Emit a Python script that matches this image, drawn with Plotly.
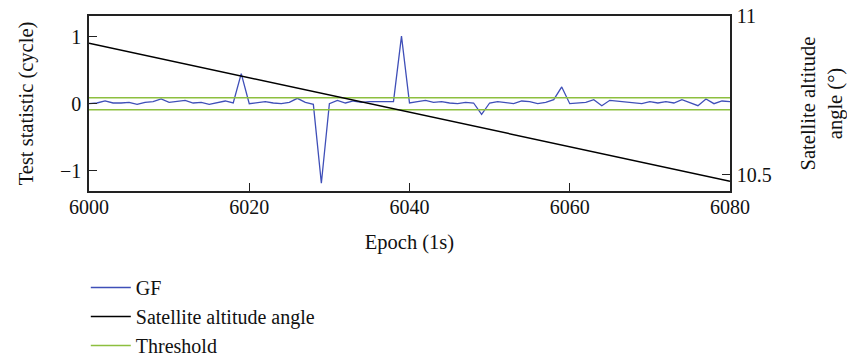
import plotly.graph_objects as go

# Epochs (1 s) and geometry-free test statistic (cycle)
epochs = list(range(6000, 6081))
gf_values = [
    0.00, 0.01, 0.04, 0.01, 0.01, 0.02, -0.01, 0.02, 0.03, 0.07,
    0.02, 0.03, 0.05, 0.01, 0.02, -0.01, 0.01, 0.04, 0.01, 0.45,
    0.00, 0.02, 0.03, 0.01, 0.00, 0.02, 0.08, 0.02, -0.01, -1.19,
    0.00, 0.05, 0.01, 0.04, 0.02, 0.03, 0.03, 0.03, 0.03, 1.01,
    0.01, 0.03, 0.05, 0.02, 0.03, 0.01, 0.00, 0.02, 0.01, -0.16,
    0.01, 0.03, 0.02, 0.00, 0.04, 0.03, 0.00, 0.02, 0.06, 0.25,
    0.00, 0.01, 0.02, 0.06, -0.03, 0.05, 0.04, 0.02, 0.02, 0.00,
    0.03, 0.01, 0.03, 0.01, 0.06, 0.02, -0.03, 0.07, 0.00, 0.04,
    0.03,
]

# Satellite altitude angle (degrees) at the start and end epochs
alt_epochs = [6000, 6080]
alt_deg = [10.914, 10.479]

# Detection threshold (cycle), drawn as +/- band
threshold = 0.09
thr_x = [6000, 6080]

x_ticks = [6000, 6020, 6040, 6060, 6080]
left_ticks = [-1, 0, 1]
right_ticks = [10.5, 11]

FONT = "Liberation Serif"
TXT = dict(family=FONT, size=20.5, color="#111111")
TICK = dict(family=FONT, size=20, color="#111111")
LEG = dict(family=FONT, size=20, color="#111111")
AXIS_COLOR = "#222222"

fig = go.Figure()

fig.add_trace(go.Scatter(
    x=epochs, y=gf_values, mode="lines", name="GF",
    line=dict(color="#3f4fb8", width=1.3),
))
fig.add_trace(go.Scatter(
    x=alt_epochs, y=alt_deg, mode="lines", name="Satellite altitude angle",
    line=dict(color="#000000", width=1.5), yaxis="y2",
))
fig.add_trace(go.Scatter(
    x=thr_x + [None] + thr_x,
    y=[threshold, threshold, None, -threshold, -threshold],
    mode="lines", name="Threshold",
    line=dict(color="#8dbf3f", width=1.5),
))

fig.update_layout(
    width=847, height=359,
    margin=dict(l=89, r=117, t=16, b=168, autoexpand=False),
    paper_bgcolor="white", plot_bgcolor="white",
    font=TXT,
    showlegend=True,
    legend=dict(
        x=-0.005, xanchor="left", y=-0.44, yanchor="top",
        bgcolor="rgba(0,0,0,0)", font=LEG,
        tracegroupgap=0, itemwidth=40,
    ),
    xaxis=dict(
        range=[6000, 6080], tickvals=x_ticks, tickfont=TICK,
        ticks="inside", ticklen=8, tickwidth=1.3, tickcolor=AXIS_COLOR,
        showline=True, linecolor=AXIS_COLOR, linewidth=1.5, mirror=True,
        showgrid=False, zeroline=False, automargin=False,
        ticklabelstandoff=-3,
        title=dict(text="Epoch (1s)", font=TXT, standoff=18),
    ),
    yaxis=dict(
        range=[-1.305, 1.31], tickvals=left_ticks, tickfont=TICK,
        ticks="inside", ticklen=8, tickwidth=1.3, tickcolor=AXIS_COLOR,
        showline=True, linecolor=AXIS_COLOR, linewidth=1.5,
        showgrid=False, zeroline=False, automargin=False,
        ticklabelstandoff=2,
        title=dict(text="Test statistic (cycle)", font=TXT, standoff=21),
    ),
    yaxis2=dict(
        overlaying="y", side="right",
        range=[10.448, 11.0], tickvals=right_ticks, ticktext=["10.5", "11"],
        tickfont=TICK,
        ticks="inside", ticklen=8, tickwidth=1.3, tickcolor=AXIS_COLOR,
        showline=True, linecolor=AXIS_COLOR, linewidth=1.5,
        showgrid=False, zeroline=False, automargin=False,
        ticklabelstandoff=1,
        title=dict(text="Satellite altitude<br>angle (°)", font=TXT, standoff=49),
    ),
)

fig.write_html("out.html")
